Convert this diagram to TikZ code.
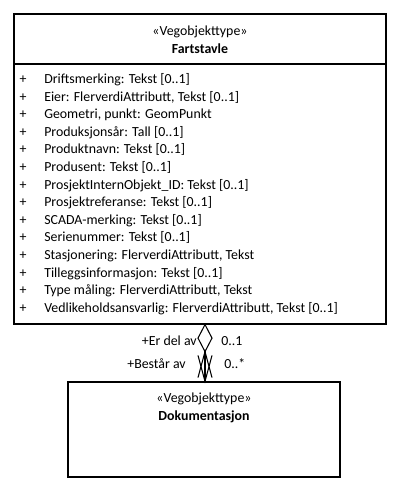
\documentclass[tikz,border=0pt]{standalone}
\usepackage{fontspec}
\setmainfont{Carlito}
\usetikzlibrary{calc}
\newcommand{\umlfont}{\fontsize{10.4pt}{12pt}\selectfont}
\begin{document}
\begin{tikzpicture}[x=0.75pt,y=-0.75pt,
  umlbox/.style={draw,line width=0.9pt,fill=white,inner sep=0pt},
  attr/.style={anchor=base west,inner sep=0pt,font=\umlfont},
  plus/.style={anchor=base,inner sep=0pt,font=\umlfont},
  lbl/.style={inner sep=0pt,font=\umlfont},
  conn/.style={line width=0.8pt}]
\useasboundingbox (0,0) rectangle (401,493);
\node[umlbox,minimum width=279pt,minimum height=232.5pt] (top) at (200,169) {};
\node[umlbox,minimum width=204pt,minimum height=71.25pt] (bot) at (204,429.5) {};
\draw[line width=0.9pt] (top.west |- 0,64) coordinate (sepl) -- (top.east |- 0,64) coordinate (sepr);
\node[lbl] (st1) at (200,31.5) {«Vegobjekttype»};
\node[lbl,font=\umlfont\bfseries] (nm1) at (200,48.5) {Fartstavle};
\node[lbl] (st2) at (204,398.5) {«Vegobjekttype»};
\node[lbl,font=\umlfont\bfseries] (nm2) at (204,416.5) {Dokumentasjon};
\foreach \t [count=\i from 0] in {
  {Driftsmerking: Tekst [0..1]},
  {Eier: FlerverdiAttributt, Tekst [0..1]},
  {Geometri, punkt: GeomPunkt},
  {Produksjonsår: Tall [0..1]},
  {Produktnavn: Tekst [0..1]},
  {Produsent: Tekst [0..1]},
  {ProsjektInternObjekt\_ID: Tekst [0..1]},
  {Prosjektreferanse: Tekst [0..1]},
  {SCADA-merking: Tekst [0..1]},
  {Serienummer: Tekst [0..1]},
  {Stasjonering: FlerverdiAttributt, Tekst},
  {Tilleggsinformasjon: Tekst [0..1]},
  {Type måling: FlerverdiAttributt, Tekst},
  {Vedlikeholdsansvarlig: FlerverdiAttributt, Tekst [0..1]}} {
  \node[plus] (p\i) at (23,{83.5+17.6*\i}) {+};
  \node[attr] (a\i) at (44,{83.5+17.6*\i}) {\t};
}
\path (top.south) ++(5,0) coordinate (e1);
\path (bot.north) ++(1,0) coordinate (e2);
\draw[conn] (e1) -- (e2);
\draw[conn,fill=white] (e1) -- ++(-7,13.5) -- ++(7,13.5) -- ++(7,-13.5) -- cycle;
\draw[conn] ($(e1)+(-7,53)$) -- ($(e1)+(0,27)$) -- ($(e1)+(7,53)$);
\draw[conn] ($(e2)+(-7,-26)$) -- (e2) -- ($(e2)+(7,-26)$);
\node[lbl,anchor=east] (r1) at (197,341) {+Er del av};
\node[lbl,anchor=west] (m1) at (221,341) {0..1};
\node[lbl,anchor=east] (r2) at (186,364) {+Består av};
\node[lbl,anchor=west] (m2) at (224,364) {0..*};
\end{tikzpicture}
\end{document}
